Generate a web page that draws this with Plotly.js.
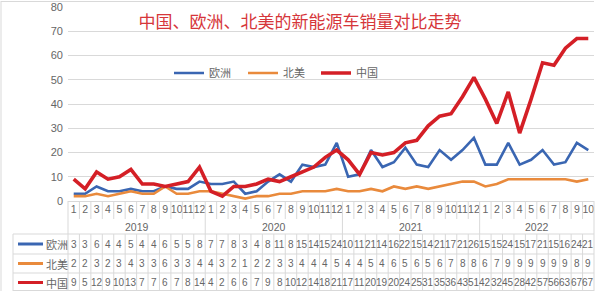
<!DOCTYPE html>
<html>
<head>
<meta charset="utf-8">
<script src="https://cdn.plot.ly/plotly-3.0.1.min.js"></script>
<style>html,body{margin:0;padding:0;background:#fff;}#chart{width:600px;height:291px;}</style>
</head>
<body>
<div id="chart"></div>
<script>
// ---- data ----
const months = ['1','2','3','4','5','6','7','8','9','10','11','12',
                '1','2','3','4','5','6','7','8','9','10','11','12',
                '1','2','3','4','5','6','7','8','9','10','11','12',
                '1','2','3','4','5','6','7','8','9','10'];
const years = ['2019','2020','2021','2022'];
const yearCounts = [12,12,12,10];
const seriesNames = ['欧洲','北美','中国'];
const europe = [3,3,6,4,4,5,4,4,6,5,5,8,
                7,7,8,3,4,8,11,8,15,14,15,24,
                10,11,21,14,16,22,15,14,21,17,21,26,
                15,15,24,15,17,21,15,16,24,21];
const northAmerica = [2,2,3,2,3,4,3,3,6,3,3,4,
                      4,3,2,1,2,2,3,3,4,4,4,5,
                      4,4,5,4,6,5,6,5,6,7,8,8,
                      6,7,9,9,9,9,9,9,8,9];
const china = [9,5,12,9,10,13,7,7,6,7,8,14,
               4,2,6,6,7,9,8,10,12,14,18,21,
               17,11,20,19,20,24,25,31,35,36,43,51,
               42,32,45,28,42,57,56,63,67,67];
const titleText = '中国、欧洲、北美的新能源车销量对比走势';

// ---- styling / layout helpers ----
const colors = ['#3a66b2','#e98a3c','#d41f26'];
const widths = [2.6,2.6,3.6];
const L=68, R=594, T=7, B=201;
const px = X => (X-L)/(R-L);
const py = Y => (B-Y)/(B-T);
const gray = '#666666';
const lineGray = '#d9d9d9';
const cjk = '"Noto Sans CJK SC", "Noto Sans", sans-serif';
const num = '"Liberation Sans", Arial, sans-serif';

const xs = months.map((m,i)=>i);
const values = [europe, northAmerica, china];
const legendIds = ['legend','legend2','legend3'];
const legendX = [169, 243, 316];

const traces = values.map((v,k)=>({
  type:'scatter', mode:'lines', x:xs, y:v, name:seriesNames[k],
  line:{color:colors[k], width:widths[k]}, hoverinfo:'skip', legend:legendIds[k]
}));

const shapes = [];
const annotations = [];
const lineStyle = {color:lineGray, width:1};
// frame
shapes.push({type:'line', xref:'paper', yref:'paper', x0:px(1), x1:px(1), y0:py(1), y1:py(291), line:lineStyle});
shapes.push({type:'line', xref:'paper', yref:'paper', x0:px(1), x1:1, y0:py(1.5), y1:py(1.5), line:lineStyle});
// table outer verticals
shapes.push({type:'line', xref:'paper', yref:'paper', x0:0, x1:0, y0:py(201), y1:py(291), line:lineStyle});
shapes.push({type:'line', xref:'paper', yref:'paper', x0:1, x1:1, y0:0, y1:py(291), line:lineStyle});
shapes.push({type:'line', xref:'paper', yref:'paper', x0:px(13), x1:px(13), y0:py(234), y1:py(291), line:lineStyle});
// month separators and data column separators
for (let i=1;i<months.length;i++){
  shapes.push({type:'line', xref:'x', yref:'paper', x0:i-0.5, x1:i-0.5, y0:py(201), y1:py(219), line:lineStyle});
  shapes.push({type:'line', xref:'x', yref:'paper', x0:i-0.5, x1:i-0.5, y0:py(234), y1:py(291), line:lineStyle});
}
// year separators + year labels
let start=0;
years.forEach((yr,k)=>{
  const n=yearCounts[k];
  if (start>0) shapes.push({type:'line', xref:'x', yref:'paper', x0:start-0.5, x1:start-0.5, y0:py(219), y1:py(234), line:lineStyle});
  annotations.push({xref:'x', yref:'paper', x:start+(n-1)/2, y:py(227), text:yr, showarrow:false,
    font:{family:num, size:10.5, color:gray}, xanchor:'center', yanchor:'middle'});
  start+=n;
});
// horizontal table lines
[234,254,273,290.5].forEach(Y=>{
  shapes.push({type:'line', xref:'paper', yref:'paper', x0:px(13), x1:1, y0:py(Y), y1:py(Y), line:lineStyle});
});
// table rows
const rowCenters=[244,263.5,282.5];
values.forEach((v,k)=>{
  const yc=py(rowCenters[k]);
  shapes.push({type:'line', xref:'paper', yref:'paper', x0:px(18), x1:px(43), y0:yc, y1:yc, line:{color:colors[k], width:3}});
  annotations.push({xref:'paper', yref:'paper', x:px(43.5), y:yc, text:seriesNames[k], showarrow:false,
    font:{family:cjk, size:11, color:gray}, xanchor:'left', yanchor:'middle'});
  v.forEach((val,i)=>{
    annotations.push({xref:'x', yref:'paper', x:i, y:yc, text:String(val), showarrow:false,
      font:{family:num, size:10, color:gray}, xanchor:'center', yanchor:'middle'});
  });
});

const layout = {
  width:600, height:291,
  margin:{l:L, r:600-R, t:T, b:291-B, pad:0},
  paper_bgcolor:'#fff', plot_bgcolor:'#fff',
  title:{text:titleText, font:{family:cjk, size:17, color:'#d6363a'}, x:0.5, xref:'container', xanchor:'center',
         y:1-22/291, yref:'container', yanchor:'middle'},
  showlegend:true,
  xaxis:{range:[-0.5, months.length-0.5], tickvals:xs, ticktext:months, ticks:'', showgrid:false,
         zeroline:false, showline:false, tickfont:{family:num, size:10.5, color:gray}, fixedrange:true,
         tickangle:0, automargin:false},
  yaxis:{range:[0,80], dtick:10, tick0:0, showgrid:true, gridcolor:lineGray, gridwidth:1,
         zeroline:true, zerolinecolor:lineGray, zerolinewidth:1, showline:false, ticks:'',
         ticklabelstandoff:4,
         tickfont:{family:num, size:11, color:gray}, automargin:false, fixedrange:true},
  shapes:shapes,
  annotations:annotations
};
legendIds.forEach((id,k)=>{
  layout[id] = {orientation:'h', x:px(legendX[k]), y:py(73), xanchor:'left', yanchor:'middle',
    font:{family:cjk, size:11, color:gray}, bgcolor:'rgba(0,0,0,0)', itemwidth:30};
});

Plotly.newPlot('chart', traces, layout, {displayModeBar:false, staticPlot:true});
</script>
</body>
</html>
